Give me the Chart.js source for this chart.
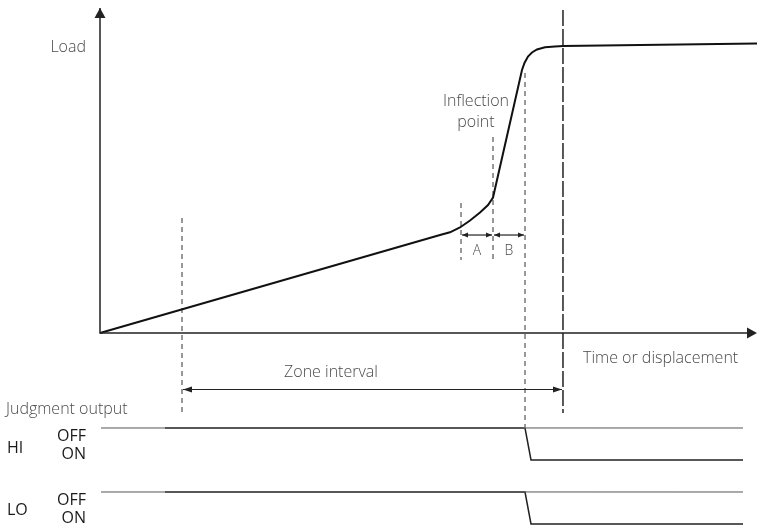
<!DOCTYPE html>
<html>
<head>
<meta charset="utf-8">
<script src="https://cdn.jsdelivr.net/npm/chart.js@4"></script>
<style>
  html, body { margin: 0; padding: 0; background: #fff; }
  canvas { display: block; }
</style>
</head>
<body>
<canvas id="chart" width="757" height="528"></canvas>
<script>
// load curve (time units, load units)
const curveTime = [0, 51.75, 53.27, 54.79, 56.32, 57.84, 59.06, 59.82,
  64.23, 64.61, 65.14, 65.75, 66.51, 67.73, 69.25, 70.47, 100];
const curveLoad = [0, 30.15, 30.98, 32.46, 34.62, 37.08, 39.38, 41.69,
  80.92, 83.08, 85.08, 86.31, 87.23, 87.91, 88.18, 88.31, 89.08];

// dashed markers: zone start, A start, inflection, B end
const markerTime = [12.48, 54.95, 59.82, 64.69];
const markerTop = [35.38, 40.0, 60.31, 80.0];
const markerBottom = [-24.31, 22.46, 21.85, -29.23];

// zone end line
const zoneEndTime = 70.47;
const zoneEndRange = [99.38, -24.62];

// judgment output rows
const offLineTime = [0.15, 97.87];
const signalTime = [9.89, 64.69, 65.6, 97.87];
const hiSignal = [-29.23, -29.23, -39.08, -39.08];
const loSignal = [-48.92, -48.92, -58.77, -58.77];

const toPoints = (xs, ys) => xs.map((x, i) => ({ x: x, y: ys[i] }))

const datasets = []

// axes
datasets.push({ data: [{ x: 0, y: 100 }, { x: 0, y: 0 }, { x: 99, y: 0 }],
  borderColor: '#222', borderWidth: 1.5 })

datasets.push({ data: toPoints(curveTime, curveLoad), borderColor: '#111', borderWidth: 2 })

markerTime.forEach((t, i) => {
  datasets.push({
    data: [{ x: t, y: markerTop[i] }, { x: t, y: markerBottom[i] }],
    borderColor: '#777', borderWidth: 1.5, borderDash: [5, 4],
  })
})

datasets.push({
  data: [{ x: zoneEndTime, y: zoneEndRange[0] }, { x: zoneEndTime, y: zoneEndRange[1] }],
  borderColor: '#222', borderWidth: 1.5, borderDash: [16, 3],
})

const hiOff = hiSignal[0], loOff = loSignal[0]
datasets.push({ data: toPoints(offLineTime, [hiOff, hiOff]), borderColor: '#555', borderWidth: 1 })
datasets.push({ data: toPoints(offLineTime, [loOff, loOff]), borderColor: '#555', borderWidth: 1 })
datasets.push({ data: toPoints(signalTime, hiSignal), borderColor: '#222', borderWidth: 1.5 })
datasets.push({ data: toPoints(signalTime, loSignal), borderColor: '#222', borderWidth: 1.5 })

datasets.forEach(d => {
  d.showLine = true
  d.pointRadius = 0
  d.tension = 0
  d.fill = false
  d.clip = false
})

function arrowHead(ctx, x, y, dir, len, half) {
  ctx.beginPath()
  if (dir === 'up') {
    ctx.moveTo(x, y); ctx.lineTo(x - half, y + len); ctx.lineTo(x + half, y + len)
  } else if (dir === 'right') {
    ctx.moveTo(x, y); ctx.lineTo(x - len, y - half); ctx.lineTo(x - len, y + half)
  } else {
    ctx.moveTo(x, y); ctx.lineTo(x + len, y - half); ctx.lineTo(x + len, y + half)
  }
  ctx.closePath()
  ctx.fill()
}

function spanArrow(ctx, x1, x2, y, len, half) {
  ctx.beginPath()
  ctx.moveTo(x1 + 1, y)
  ctx.lineTo(x2 - 1, y)
  ctx.stroke()
  arrowHead(ctx, x1 + 1, y, 'left', len, half)
  arrowHead(ctx, x2 - 1, y, 'right', len, half)
}

const annotations = {
  id: 'annotations',
  afterDatasetsDraw(chart) {
    const ctx = chart.ctx
    const xs = chart.scales.x, ys = chart.scales.y
    const px = v => xs.getPixelForValue(v)
    const py = v => ys.getPixelForValue(v)

    ctx.save()
    ctx.fillStyle = '#222'
    ctx.strokeStyle = '#222'
    ctx.lineWidth = 1.2

    // axis arrow heads
    arrowHead(ctx, px(0), py(100), 'up', 10, 5.5)
    arrowHead(ctx, px(100), py(0), 'right', 10, 5.5)

    // A / B spans
    spanArrow(ctx, px(markerTime[1]), px(markerTime[2]), py(30.15), 6, 2.5)
    spanArrow(ctx, px(markerTime[2]), px(markerTime[3]), py(30.15), 6, 2.5)

    // zone interval span
    spanArrow(ctx, px(markerTime[0]), px(zoneEndTime), py(-17.38), 9, 3)

    ctx.textBaseline = 'middle'
    const label = (text, x, y, align, color, size, weight) => {
      ctx.font = (weight || 300) + ' ' + (size || 16) + 'px "Open Sans", sans-serif'
      ctx.fillStyle = color
      ctx.textAlign = align
      ctx.fillText(text, x, y)
    }
    const grey = '#4a4a4a', dark = '#1a1a1a'
    label('Load', 86, 47, 'right', grey)
    label('Inflection', 476, 101, 'center', grey)
    label('point', 476, 122, 'center', grey)
    label('A', 477, 251, 'center', grey, 14)
    label('B', 509, 251, 'center', grey, 14)
    label('Time or displacement', 583, 358, 'left', grey)
    label('Zone interval', 331, 372, 'center', grey)
    label('Judgment output', 6, 409, 'left', grey)
    label('HI', 7, 448, 'left', dark, 16, 400)
    label('OFF', 86, 436, 'right', dark, 16, 400)
    label('ON', 86, 454, 'right', dark, 16, 400)
    label('LO', 7, 510, 'left', dark, 16, 400)
    label('OFF', 86, 500, 'right', dark, 16, 400)
    label('ON', 86, 518, 'right', dark, 16, 400)
    ctx.restore()
  }
}

new Chart(document.getElementById('chart'), {
  type: 'scatter',
  data: { datasets: datasets },
  options: {
    responsive: false,
    animation: false,
    devicePixelRatio: 1,
    layout: { padding: { left: 100, right: 0, top: 8, bottom: 0 } },
    scales: {
      x: { type: 'linear', min: 0, max: 100, display: false },
      y: { type: 'linear', min: -60, max: 100, display: false },
    },
    plugins: { legend: { display: false }, tooltip: { enabled: false } },
  },
  plugins: [annotations],
})
</script>
</body>
</html>
